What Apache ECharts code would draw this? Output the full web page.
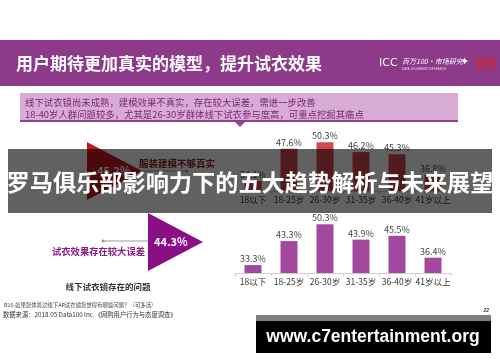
<!DOCTYPE html>
<html>
<head>
<meta charset="utf-8">
<script src="https://cdn.jsdelivr.net/npm/echarts@6/dist/echarts.min.js"></script>
<style>
html,body{margin:0;padding:0;background:#fff;}
#c{width:500px;height:362px;}
</style>
</head>
<body>
<div id="c"></div>
<script>
var categories = ['18以下', '18-25岁', '26-30岁', '31-35岁', '36-40岁', '41岁以上'];
var modelValues = [34.1, 47.6, 50.3, 46.2, 45.3, 36.8];
var errorValues = [33.3, 43.3, 50.3, 43.9, 45.5, 36.4];
var modelShare = '45.2%';
var errorShare = '44.3%';

var FONT = '"Noto Sans CJK SC", "Noto Sans", sans-serif';
var chart = echarts.init(document.getElementById('c'), null, {renderer: 'canvas'});

function axisX(gridIndex) {
  return {
    type: 'category', gridIndex: gridIndex, data: categories,
    axisLine: {lineStyle: {color: '#cfcfcf', width: 1}},
    axisTick: {show: true, length: 3, lineStyle: {color: '#cfcfcf'}},
    axisLabel: {interval: 0, color: '#333', fontSize: 8.5, margin: 5, fontFamily: FONT}
  };
}
function axisY(gridIndex) {
  return {type: 'value', gridIndex: gridIndex, min: 30, max: 60, show: false, splitLine: {show: false}};
}
function barSeries(idx, data, color) {
  return {
    type: 'bar', xAxisIndex: idx, yAxisIndex: idx, data: data, barWidth: 17,
    itemStyle: {color: color},
    label: {show: true, position: 'top', distance: 2, fontSize: 9, color: '#444', fontFamily: FONT,
      formatter: function (p) { return p.value.toFixed(1) + '%'; }},
    z: 2
  };
}

chart.setOption({
  animation: false,
  grid: [
    {left: 235, top: 119, width: 216, height: 72},
    {left: 235, top: 201, width: 216, height: 72}
  ],
  xAxis: [axisX(0), axisX(1)],
  yAxis: [axisY(0), axisY(1)],
  series: [
    barSeries(0, modelValues, '#d4454c'),
    barSeries(1, errorValues, '#a3489f')
  ],
  graphic: [
    // header band
    {type: 'rect', shape: {x: 0, y: 40, width: 500, height: 46}, style: {fill: '#8c3a89'}, z: 1},
    {type: 'text', x: 16, y: 64, style: {text: '用户期待更加真实的模型，提升试衣效果', fill: '#fff', font: 'bold 17px ' + FONT, textVerticalAlign: 'middle'}, z: 2},
    {type: 'text', x: 379, y: 63, style: {text: 'ICC', fill: '#fff', font: '11px "DejaVu Sans"', textVerticalAlign: 'middle'}, z: 2},
    {type: 'text', x: 402, y: 61, style: {text: '百万100·市场研究', fill: '#fff', font: 'italic 7px ' + FONT, textVerticalAlign: 'middle'}, z: 2},
    {type: 'text', x: 402, y: 69, style: {text: 'DATA 100 MARKET RESEARCH', fill: '#e8d0e6', font: '3px sans-serif', textVerticalAlign: 'middle'}, z: 2},
    {type: 'text', x: 460, y: 62, style: {text: '✦', fill: '#fff', font: '11px "DejaVu Sans"', textVerticalAlign: 'middle'}, z: 2},
    {type: 'text', x: 475, y: 64, style: {text: '京东', fill: '#d8232a', font: 'bold 11px ' + FONT, textVerticalAlign: 'middle'}, z: 2},

    // pink summary box
    {type: 'rect', shape: {x: 20, y: 93, width: 438, height: 28}, style: {fill: '#d8acd4'}, z: 1},
    {type: 'rect', shape: {x: 20, y: 120, width: 438, height: 2}, style: {fill: '#93408f'}, z: 1},
    {type: 'polygon', shape: {points: [[234, 121], [246, 121], [240, 127]]}, style: {fill: '#93408f'}, z: 1},
    {type: 'text', x: 25, y: 102, style: {text: '线下试衣镜尚未成熟，建模效果不真实，存在较大误差，需进一步改善', fill: '#7a2677', font: '9.4px ' + FONT, textVerticalAlign: 'middle'}, z: 2},
    {type: 'text', x: 25, y: 114, style: {text: '18-40岁人群问题较多，尤其是26-30岁群体线下试衣参与度高，可重点挖掘其痛点', fill: '#7a2677', font: '9.4px ' + FONT, textVerticalAlign: 'middle'}, z: 2},

    // top callout
    {type: 'polygon', shape: {points: [[87, 142], [87, 200], [142, 171]]}, style: {fill: '#c8161f'}, z: 1},
    {type: 'text', x: 97, y: 171, style: {text: modelShare, fill: '#fff', font: 'bold 11px ' + FONT, textVerticalAlign: 'middle'}, z: 2},
    {type: 'line', shape: {x1: 139, y1: 171, x2: 187, y2: 171}, style: {stroke: '#999', lineWidth: 1}, z: 1},
    {type: 'circle', shape: {cx: 187, cy: 171, r: 1.5}, style: {fill: '#999'}, z: 1},
    {type: 'text', x: 139, y: 163, style: {text: '服装建模不够真实', fill: '#8a1a1f', font: 'bold 9.5px ' + FONT, textVerticalAlign: 'middle'}, z: 2},

    // bottom callout
    {type: 'polygon', shape: {points: [[148, 213], [148, 271], [203, 242]]}, style: {fill: '#8a0f87'}, z: 1},
    {type: 'text', x: 154, y: 242, style: {text: errorShare, fill: '#fff', font: 'bold 11px ' + FONT, textVerticalAlign: 'middle'}, z: 2},
    {type: 'line', shape: {x1: 103, y1: 241, x2: 148, y2: 241}, style: {stroke: '#999', lineWidth: 1}, z: 1},
    {type: 'circle', shape: {cx: 103, cy: 241, r: 1.5}, style: {fill: '#999'}, z: 1},
    {type: 'text', x: 52, y: 251, style: {text: '试衣效果存在较大误差', fill: '#8a1a87', font: 'bold 9.3px ' + FONT, textVerticalAlign: 'middle'}, z: 2},

    {type: 'text', x: 108, y: 287, style: {text: '线下试衣镜存在的问题', fill: '#333', font: 'bold 8.5px ' + FONT, textAlign: 'center', textVerticalAlign: 'middle'}, z: 2},
    {type: 'text', x: 4, y: 305, style: {text: 'B10.如果您体验过线下AR试衣镜您觉得有哪些问题？（可多选）', fill: '#444', font: '5.4px ' + FONT, textVerticalAlign: 'middle'}, z: 2},
    {type: 'text', x: 3, y: 315, style: {text: '数据来源：2018.05 Data100 Inc.《网购用户行为与态度调查》', fill: '#333', font: '6.3px ' + FONT, textVerticalAlign: 'middle'}, z: 2},
    {type: 'text', x: 489, y: 311, style: {text: '22', fill: '#333', font: 'italic bold 5px sans-serif', textAlign: 'right', textVerticalAlign: 'middle'}, z: 2},

    // overlay band with headline
    {type: 'rect', shape: {x: 8, y: 149, width: 484, height: 64}, style: {fill: 'rgba(0,0,0,0.62)'}, z: 100},
    {type: 'text', x: 250, y: 182, style: {text: '罗马俱乐部影响力下的五大趋势解析与未来展望', fill: '#fff', font: 'bold 23.2px ' + FONT, textAlign: 'center', textVerticalAlign: 'middle'}, z: 101},

    // url box
    {type: 'rect', shape: {x: 256, y: 315, width: 235, height: 6}, style: {fill: '#7f7f7f'}, z: 100},
    {type: 'rect', shape: {x: 256, y: 321, width: 235, height: 32}, style: {fill: '#000'}, z: 100},
    {type: 'text', x: 373, y: 337, style: {text: 'www.c7entertainment.org', fill: '#fff', font: 'bold 17.5px "Liberation Sans"', textAlign: 'center', textVerticalAlign: 'middle'}, z: 101}
  ]
});
</script>
</body>
</html>
